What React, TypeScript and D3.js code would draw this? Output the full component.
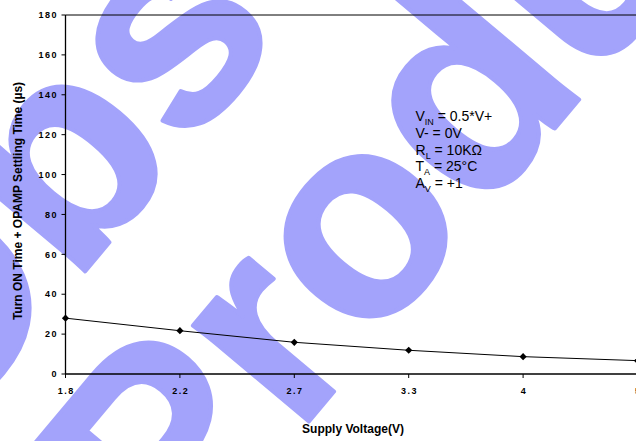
import React from "react";
import * as d3 from "d3";

const categories = ["1.8", "2.2", "2.7", "3.3", "4", "5"];
const settlingTime = [28, 21.7, 15.9, 11.9, 8.7, 6.7];
const yTicks = [0, 20, 40, 60, 80, 100, 120, 140, 160, 180];
const conditions = [
  { main: "V", sub: "IN", rest: " = 0.5*V+" },
  { main: "V- = 0V", sub: "", rest: "" },
  { main: "R", sub: "L", rest: " = 10KΩ" },
  { main: "T", sub: "A", rest: " = 25°C" },
  { main: "A", sub: "V", rest: " = +1" },
];
const watermarkLines = ["Obsolete", "Product"];

const W = 636;
const H = 441;
const FONT = "'Liberation Sans', Arial, Helvetica, sans-serif";

export default function App() {
  const x = d3.scalePoint<string>().domain(categories).range([65.5, 637.5]);
  const y = d3.scaleLinear().domain([0, 180]).range([374, 15]);
  const line = d3
    .line<number>()
    .x((_, i) => x(categories[i]) as number)
    .y((d) => y(d));
  const left = x(categories[0]) as number;

  return (
    <svg
      width={W}
      height={H}
      style={{ position: "absolute", left: 0, top: 0, background: "#fff" }}
      fontFamily={FONT}
    >
      {/* watermark */}
      <g
        transform="translate(520,170) rotate(-50)"
        fill="#a3a3fb"
        stroke="#a3a3fb"
        strokeWidth={4}
        strokeLinejoin="round"
        fontWeight="bold"
        fontSize={285}
      >
        <text x={12} y={-268} textAnchor="middle">{watermarkLines[0]}</text>
        <text x={0} y={0} textAnchor="middle">{watermarkLines[1]}</text>
      </g>

      {/* plot frame */}
      <line x1={left} x2={W + 5} y1={y(180)} y2={y(180)} stroke="#000" strokeWidth={1} />
      <line x1={left} x2={left} y1={y(180)} y2={y(0)} stroke="#000" strokeWidth={1.3} />
      <line x1={left} x2={W + 5} y1={y(0)} y2={y(0)} stroke="#000" strokeWidth={1.3} />

      {/* y ticks */}
      {yTicks.map((t) => (
        <g key={t}>
          <line x1={left - 4} x2={left} y1={y(t)} y2={y(t)} stroke="#000" strokeWidth={1} />
          <text
            x={58}
            y={y(t) + 3.2}
            textAnchor="end"
            fontSize={9}
            fontWeight="bold"
            letterSpacing={1.5}
          >
            {t}
          </text>
        </g>
      ))}

      {/* x ticks */}
      {categories.map((c) => (
        <g key={c}>
          <line x1={x(c)} x2={x(c)} y1={y(0)} y2={y(0) + 4} stroke="#000" strokeWidth={1} />
          <text
            x={(x(c) as number) + 0.8}
            y={394}
            textAnchor="middle"
            fontSize={9}
            fontWeight="bold"
            letterSpacing={1.5}
          >
            {c}
          </text>
        </g>
      ))}

      {/* series */}
      <path d={line(settlingTime) || ""} fill="none" stroke="#000" strokeWidth={1} />
      {settlingTime.map((v, i) => {
        const cx = x(categories[i]) as number;
        const cy = y(v);
        const r = 3.6;
        return (
          <path
            key={i}
            d={`M${cx},${cy - r}L${cx + r},${cy}L${cx},${cy + r}L${cx - r},${cy}Z`}
            fill="#000"
          />
        );
      })}

      {/* annotation */}
      {conditions.map((c, i) => (
        <text key={i} x={415.5} y={121 + i * 16.8} fontSize={14}>
          {c.main}
          {c.sub && (
            <tspan fontSize={9} dy={4}>
              {c.sub}
            </tspan>
          )}
          {c.rest && <tspan dy={c.sub ? -4 : 0}>{c.rest}</tspan>}
        </text>
      ))}

      {/* axis titles */}
      <text x={353} y={433} textAnchor="middle" fontSize={12} fontWeight="bold">
        Supply Voltage(V)
      </text>
      <text
        transform="translate(21.5,201) rotate(-90)"
        textAnchor="middle"
        fontSize={12}
        fontWeight="bold"
      >
        Turn ON Time + OPAMP Settling Time (µs)
      </text>
    </svg>
  );
}
